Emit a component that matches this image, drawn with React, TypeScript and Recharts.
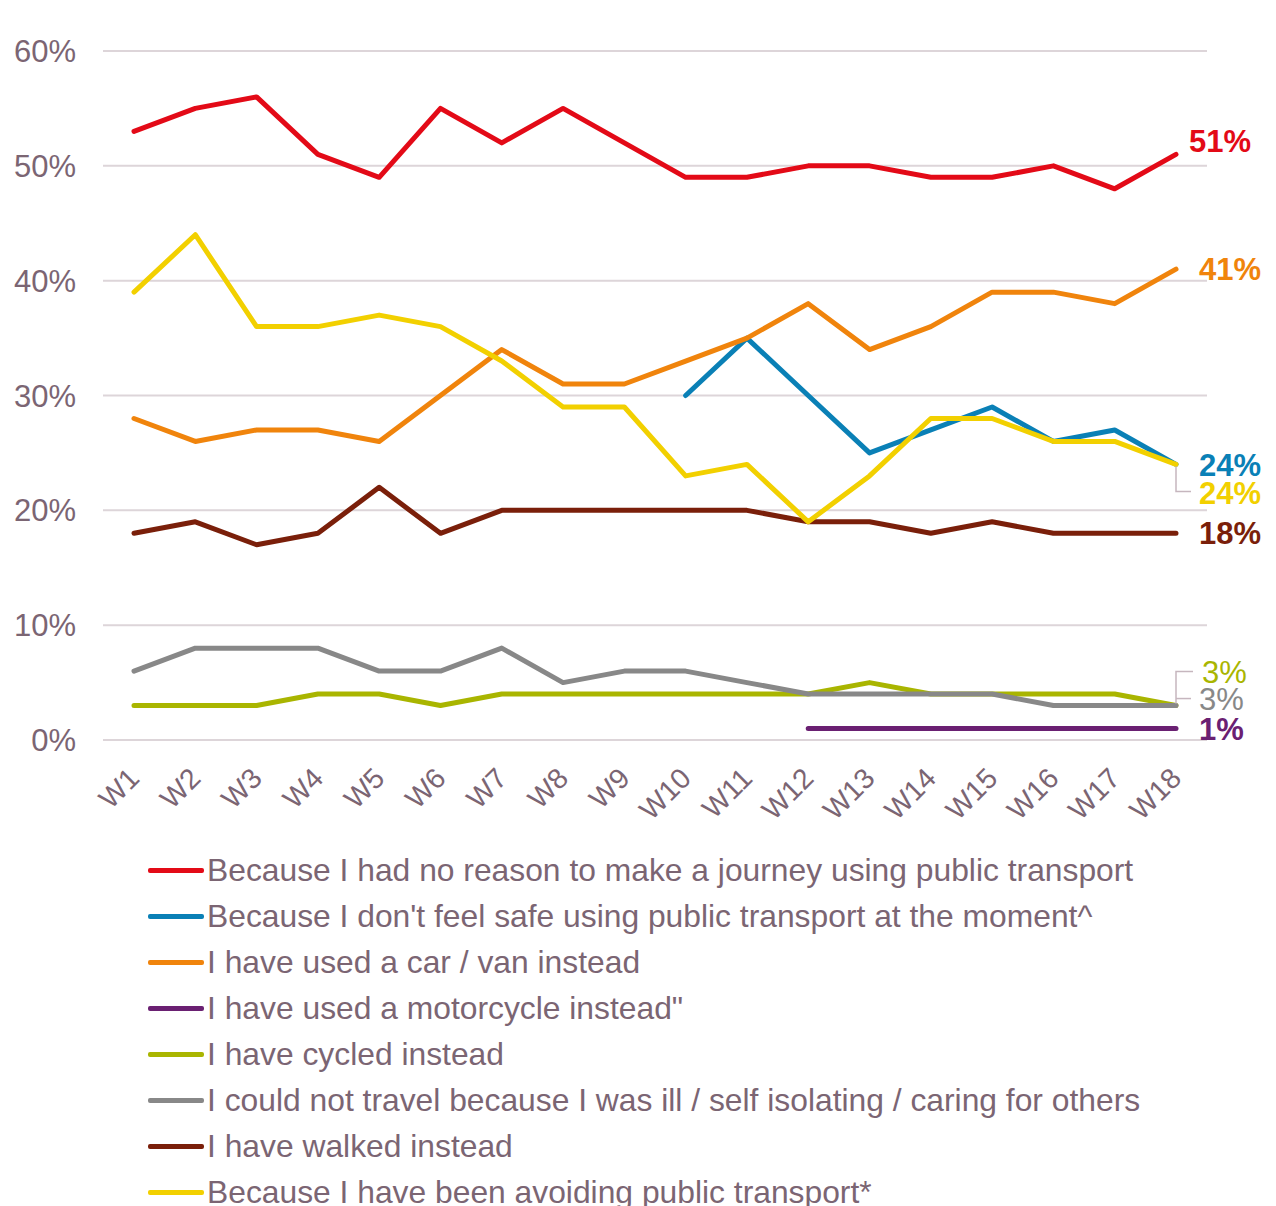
import { LineChart, Line, XAxis, YAxis, CartesianGrid } from 'recharts';

const weeks = ['W1', 'W2', 'W3', 'W4', 'W5', 'W6', 'W7', 'W8', 'W9', 'W10', 'W11', 'W12', 'W13', 'W14', 'W15', 'W16', 'W17', 'W18'];

const noReason = [53, 55, 56, 51, 49, 55, 52, 55, 52, 49, 49, 50, 50, 49, 49, 50, 48, 51];
const notSafe = [null, null, null, null, null, null, null, null, null, 30, 35, 30, 25, 27, 29, 26, 27, 24];
const carVan = [28, 26, 27, 27, 26, 30, 34, 31, 31, 33, 35, 38, 34, 36, 39, 39, 38, 41];
const motorcycle = [null, null, null, null, null, null, null, null, null, null, null, 1, 1, 1, 1, 1, 1, 1];
const cycled = [3, 3, 3, 4, 4, 3, 4, 4, 4, 4, 4, 4, 5, 4, 4, 4, 4, 3];
const illIsolating = [6, 8, 8, 8, 6, 6, 8, 5, 6, 6, 5, 4, 4, 4, 4, 3, 3, 3];
const walked = [18, 19, 17, 18, 22, 18, 20, 20, 20, 20, 20, 19, 19, 18, 19, 18, 18, 18];
const avoiding = [39, 44, 36, 36, 37, 36, 33, 29, 29, 23, 24, 19, 23, 28, 28, 26, 26, 24];

const yTicks = [0, 10, 20, 30, 40, 50, 60];

const data = weeks.map((week, i) => ({
  week,
  noReason: noReason[i],
  notSafe: notSafe[i],
  carVan: carVan[i],
  motorcycle: motorcycle[i],
  cycled: cycled[i],
  illIsolating: illIsolating[i],
  walked: walked[i],
  avoiding: avoiding[i],
}));

const FONT = '"Liberation Sans", Arial, sans-serif';
const TEXT = '#7b6573';
const LEADER = '#c6b6be';

// end label placement per series
const series = [
  { key: 'noReason', name: 'Because I had no reason to make a journey using public transport', color: '#e30a17', dx: 13, dy: -14, bold: true },
  { key: 'notSafe', name: "Because I don't feel safe using public transport at the moment^", color: '#0a80b6', dx: 23, dy: 0, bold: true },
  { key: 'carVan', name: 'I have used a car / van instead', color: '#f0840c', dx: 23, dy: 0, bold: true },
  { key: 'motorcycle', name: 'I have used a motorcycle instead"', color: '#6a2072', dx: 23, dy: 0, bold: true },
  { key: 'cycled', name: 'I have cycled instead', color: '#a9b500', dx: 26, dy: -34, bold: false, leader: 'up' },
  { key: 'illIsolating', name: 'I could not travel because I was ill / self isolating / caring for others', color: '#888888', dx: 23, dy: -7, bold: false, leader: 'tick' },
  { key: 'walked', name: 'I have walked instead', color: '#7a1f0a', dx: 23, dy: 0, bold: true },
  { key: 'avoiding', name: 'Because I have been avoiding public transport*', color: '#f2d000', dx: 23, dy: 28, bold: true, leader: 'down' },
];

const endLabel = (s: any) => (props: any) => {
  const { x, y, value, index } = props;
  if (index !== weeks.length - 1 || value == null) return null;
  return (
    <g>
      {s.leader === 'down' && (
        <polyline points={`${x},${y + 2} ${x},${y + 27} ${x + 15},${y + 27}`} fill="none" stroke={LEADER} strokeWidth={1.5} />
      )}
      {s.leader === 'up' && (
        <polyline points={`${x},${y - 2} ${x},${y - 34} ${x + 17},${y - 34}`} fill="none" stroke={LEADER} strokeWidth={1.5} />
      )}
      {s.leader === 'tick' && (
        <line x1={x} y1={y - 7} x2={x + 15} y2={y - 7} stroke={LEADER} strokeWidth={1.5} />
      )}
      <text
        x={x + s.dx}
        y={y + s.dy}
        dy="0.36em"
        fill={s.color}
        fontSize={31}
        fontWeight={s.bold ? 'bold' : 'normal'}
        fontFamily={FONT}
      >
        {value}%
      </text>
    </g>
  );
};

const WeekTick = (props: any) => {
  const { x, y, payload } = props;
  return (
    <g transform={`translate(${x + 7},${y + 40})`}>
      <text textAnchor="end" transform="rotate(-45)" fill={TEXT} fontSize={28.5} fontFamily={FONT}>
        {payload.value}
      </text>
    </g>
  );
};

const App = () => {
  return (
    <div style={{ position: 'relative', width: 1260, height: 1198, fontFamily: FONT }}>
      <LineChart width={1260} height={840} data={data} margin={{ top: 43, right: 61, left: 0, bottom: 18 }}>
        <CartesianGrid vertical={false} stroke="#ddd5d9" strokeWidth={2} />
        <XAxis
          dataKey="week"
          interval={0}
          height={90}
          tickLine={false}
          axisLine={false}
          tickSize={0}
          tickMargin={0}
          padding={{ left: 31, right: 31 }}
          tick={<WeekTick />}
        />
        <YAxis
          width={95}
          domain={[0, 60]}
          ticks={yTicks}
          tickFormatter={(v) => `${v}%`}
          tickLine={false}
          axisLine={false}
          tickSize={0}
          tickMargin={27}
          tick={{ fill: TEXT, fontSize: 31, fontFamily: FONT }}
        />
        {series.map((s) => (
          <Line
            key={s.key}
            dataKey={s.key}
            type="linear"
            stroke={s.color}
            strokeWidth={5}
            strokeLinecap="round"
            strokeLinejoin="round"
            dot={false}
            activeDot={false}
            isAnimationActive={false}
            label={endLabel(s)}
          />
        ))}
      </LineChart>

      {/* Legend */}
      <div style={{ position: 'absolute', left: 140, top: 839 }}>
        {series.map((s) => (
          <div key={s.key} style={{ display: 'flex', alignItems: 'center', height: 46 }}>
            <span style={{ display: 'inline-block', width: 56, height: 5, borderRadius: 2, background: s.color }} />
            <span style={{ marginLeft: 3, fontSize: 31.8, color: TEXT, whiteSpace: 'nowrap', lineHeight: '46px' }}>{s.name}</span>
          </div>
        ))}
      </div>
    </div>
  );
};

export default App;
